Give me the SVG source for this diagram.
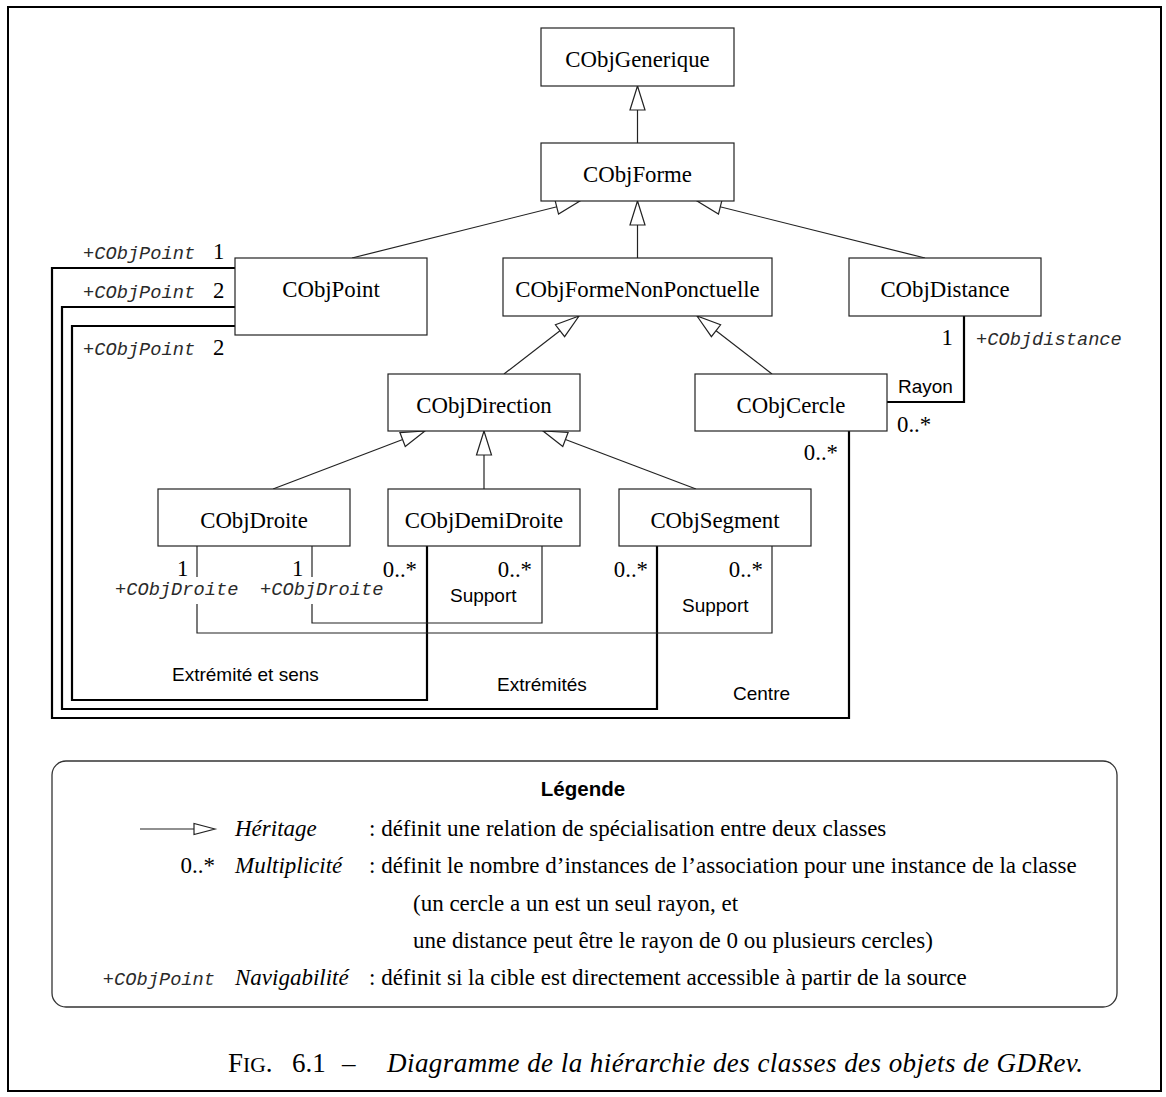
<svg xmlns="http://www.w3.org/2000/svg" width="1166" height="1097" viewBox="0 0 1166 1097">
  <style>
    .box { fill: #fff; stroke: #222; stroke-width: 1.2; }
    .cls { font-family: "Liberation Serif", "Times New Roman", serif; font-size: 22.8px; fill: #000; text-anchor: middle; }
    .num { font-family: "Liberation Serif", "Times New Roman", serif; font-size: 22.8px; fill: #000; }
    .role { font-family: "Liberation Mono", "Courier New", monospace; font-style: italic; font-size: 18.7px; fill: #2a2a2a; }
    .assoc-name { font-family: "Liberation Sans", Arial, sans-serif; font-size: 19px; fill: #000; }
    .inherit { fill: none; stroke: #222; stroke-width: 1.2; marker-end: url(#hollow); }
    .assoc { fill: none; stroke: #000; stroke-width: 2.2; }
    .assoc-thin { fill: none; stroke: #222; stroke-width: 1.2; }
    .lg { font-family: "Liberation Serif", "Times New Roman", serif; font-size: 23px; fill: #000; }
    .lgi { font-family: "Liberation Serif", "Times New Roman", serif; font-style: italic; font-size: 23px; fill: #000; }
    .end { text-anchor: end; }
    .cap { font-family: "Liberation Serif", "Times New Roman", serif; font-size: 27px; fill: #000; }
  </style>
  <defs>
    <marker id="hollow" viewBox="-26 -10 28 20" refX="0" refY="0" markerWidth="28" markerHeight="20" markerUnits="userSpaceOnUse" orient="auto">
      <path d="M0,0 L-24,-7.5 L-24,7.5 Z" fill="#fff" stroke="#222" stroke-width="1.2"/>
    </marker>
  </defs>

  <rect width="1166" height="1097" fill="#fff"/>
  <!-- page frame -->
  <rect x="8" y="7" width="1153" height="1084" fill="none" stroke="#000" stroke-width="2"/>

  <!-- connectors -->
  <g id="connectors">
    <!-- generalisations -->
    <line class="inherit" x1="637.5" y1="143" x2="637.5" y2="86"/>
    <line class="inherit" x1="352" y1="258" x2="580" y2="201"/>
    <line class="inherit" x1="637.5" y1="258" x2="637.5" y2="201"/>
    <line class="inherit" x1="925" y1="258" x2="697" y2="201"/>
    <line class="inherit" x1="504" y1="374" x2="579" y2="316"/>
    <line class="inherit" x1="772" y1="374" x2="697" y2="316"/>
    <line class="inherit" x1="273" y1="489" x2="425" y2="431"/>
    <line class="inherit" x1="484" y1="489" x2="484" y2="431"/>
    <line class="inherit" x1="696" y1="489" x2="543" y2="431"/>

    <!-- associations with CObjPoint -->
    <polyline class="assoc" points="235,268 52,268 52,718 849,718 849,431"/>
    <polyline class="assoc" points="235,307 62,307 62,709 657,709 657,546"/>
    <polyline class="assoc" points="235,326 72,326 72,700 427,700 427,546"/>
    <!-- Rayon -->
    <polyline class="assoc" points="964,316 964,402 887,402"/>
    <!-- Support associations -->
    <line class="assoc-thin" x1="197" y1="546" x2="197" y2="577"/>
    <polyline class="assoc-thin" points="197,604 197,633 772,633 772,546"/>
    <line class="assoc-thin" x1="312" y1="546" x2="312" y2="577"/>
    <polyline class="assoc-thin" points="312,604 312,623 542,623 542,546"/>
  </g>

  <!-- association labels -->
  <g id="labels">
    <text class="role" x="83" y="259">+CObjPoint</text>
    <text class="num" x="213" y="259">1</text>
    <text class="role" x="83" y="298">+CObjPoint</text>
    <text class="num" x="213" y="298">2</text>
    <text class="role" x="83" y="355">+CObjPoint</text>
    <text class="num" x="213" y="355">2</text>

    <text class="num end" x="953" y="345">1</text>
    <text class="role" x="976" y="345">+CObjdistance</text>
    <text class="assoc-name" x="898" y="393">Rayon</text>
    <text class="num" x="897" y="432">0..*</text>
    <text class="num end" x="838" y="460">0..*</text>

    <text class="num" x="177" y="576">1</text>
    <text class="role" x="115" y="595">+CObjDroite</text>
    <text class="num" x="292" y="576">1</text>
    <text class="role" x="260" y="595">+CObjDroite</text>

    <text class="num end" x="417" y="577">0..*</text>
    <text class="num end" x="532" y="577">0..*</text>
    <text class="num end" x="648" y="577">0..*</text>
    <text class="num end" x="763" y="577">0..*</text>

    <text class="assoc-name" x="450" y="602">Support</text>
    <text class="assoc-name" x="682" y="612">Support</text>
    <text class="assoc-name" x="172" y="681">Extrémité et sens</text>
    <text class="assoc-name" x="497" y="691">Extrémités</text>
    <text class="assoc-name" x="733" y="700">Centre</text>
  </g>

  <!-- classes -->
  <g id="CObjGenerique"><rect class="box" x="541" y="28" width="193" height="58"/><text class="cls" x="637.5" y="67">CObjGenerique</text></g>
  <g id="CObjForme"><rect class="box" x="541" y="143" width="193" height="58"/><text class="cls" x="637.5" y="182">CObjForme</text></g>
  <g id="CObjPoint"><rect class="box" x="235" y="258" width="192" height="77"/><text class="cls" x="331" y="297">CObjPoint</text></g>
  <g id="CObjFormeNonPonctuelle"><rect class="box" x="503" y="258" width="269" height="58"/><text class="cls" x="637.5" y="297">CObjFormeNonPonctuelle</text></g>
  <g id="CObjDistance"><rect class="box" x="849" y="258" width="192" height="58"/><text class="cls" x="945" y="297">CObjDistance</text></g>
  <g id="CObjDirection"><rect class="box" x="388" y="374" width="192" height="57"/><text class="cls" x="484" y="413">CObjDirection</text></g>
  <g id="CObjCercle"><rect class="box" x="695" y="374" width="192" height="57"/><text class="cls" x="791" y="413">CObjCercle</text></g>
  <g id="CObjDroite"><rect class="box" x="158" y="489" width="192" height="57"/><text class="cls" x="254" y="528">CObjDroite</text></g>
  <g id="CObjDemiDroite"><rect class="box" x="388" y="489" width="192" height="57"/><text class="cls" x="484" y="528">CObjDemiDroite</text></g>
  <g id="CObjSegment"><rect class="box" x="619" y="489" width="192" height="57"/><text class="cls" x="715" y="528">CObjSegment</text></g>

  <!-- legend -->
  <g id="legende">
    <rect x="52" y="761" width="1065" height="246" rx="14" ry="14" fill="#fff" stroke="#333" stroke-width="1.3"/>
    <text x="583" y="796" text-anchor="middle" font-family="Liberation Sans, Arial, sans-serif" font-weight="bold" font-size="20.5">Légende</text>

    <line x1="140" y1="829" x2="194" y2="829" stroke="#222" stroke-width="1.2"/>
    <path d="M215,829 L194,823.5 L194,834.5 Z" fill="#fff" stroke="#222" stroke-width="1.2"/>
    <text class="lgi" x="235" y="836">Héritage</text>
    <text class="lg" x="369" y="836">: définit une relation de spécialisation entre deux classes</text>

    <text class="lg end" x="215" y="873">0..*</text>
    <text class="lgi" x="235" y="873">Multiplicité</text>
    <text class="lg" x="369" y="873">: définit le nombre d’instances de l’association pour une instance de la classe</text>
    <text class="lg" x="413" y="911">(un cercle a un est un seul rayon, et</text>
    <text class="lg" x="413" y="948">une distance peut être le rayon de 0 ou plusieurs cercles)</text>

    <text class="role end" x="215" y="985" font-size="18">+CObjPoint</text>
    <text class="lgi" x="235" y="985">Navigabilité</text>
    <text class="lg" x="369" y="985">: définit si la cible est directement accessible à partir de la source</text>
  </g>

  <!-- caption -->
  <g id="caption">
    <text class="cap" x="228" y="1072">F<tspan font-size="21.5">IG</tspan>.</text>
    <text class="cap" x="292" y="1072">6.1</text>
    <text class="cap" x="342" y="1072">–</text>
    <text class="cap" x="387" y="1072" font-style="italic" textLength="696" lengthAdjust="spacing">Diagramme de la hiérarchie des classes des objets de GDRev.</text>
  </g>
</svg>
